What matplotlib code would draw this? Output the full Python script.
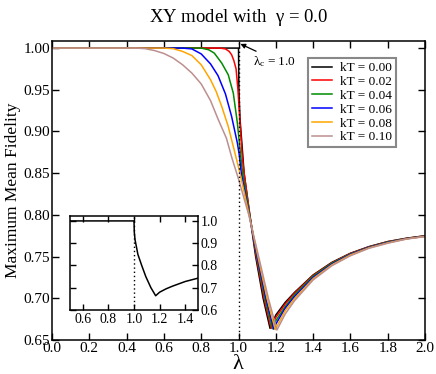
import matplotlib
matplotlib.use("Agg")
import matplotlib.pyplot as plt

plt.rcParams['font.family'] = ['Liberation Serif', 'DejaVu Serif']
plt.rcParams['mathtext.fontset'] = 'custom'
plt.rcParams['mathtext.rm'] = 'Liberation Serif'
plt.rcParams['mathtext.it'] = 'Liberation Serif'

# curves (lambda, max mean fidelity)
lam_00 = [0.0, 1.0, 1.002, 1.008, 1.02, 1.03, 1.06, 1.092, 1.132, 1.169, 1.2, 1.25, 1.3, 1.4, 1.5, 1.6, 1.7, 1.8, 1.9, 2.0]
fid_00 = [1.0, 1.0, 0.95, 0.915, 0.88, 0.85, 0.80, 0.75, 0.70, 0.664, 0.680, 0.695, 0.707, 0.728, 0.743, 0.754, 0.762, 0.768, 0.772, 0.775]

lam_02 = [0.0, 0.9, 0.93, 0.95, 0.963, 0.975, 0.987, 0.997, 1.008, 1.02, 1.03, 1.061, 1.095, 1.137, 1.175, 1.2, 1.25, 1.3, 1.4, 1.5, 1.6, 1.7, 1.8, 1.9, 2.0]
fid_02 = [1.0, 1.0, 0.999, 0.996, 0.992, 0.985, 0.975, 0.95, 0.91, 0.87, 0.85, 0.80, 0.75, 0.70, 0.664, 0.677, 0.693, 0.706, 0.7275, 0.7425, 0.7537, 0.7617, 0.7678, 0.7718, 0.7748]

lam_04 = [0.0, 0.8, 0.84, 0.87, 0.91, 0.945, 0.972, 0.994, 1.012, 1.022, 1.06, 1.098, 1.142, 1.182, 1.2, 1.25, 1.3, 1.4, 1.5, 1.6, 1.7, 1.8, 1.9, 2.0]
fid_04 = [1.0, 1.0, 0.998, 0.994, 0.982, 0.968, 0.946, 0.91, 0.87, 0.85, 0.80, 0.75, 0.70, 0.6635, 0.673, 0.690, 0.704, 0.7265, 0.742, 0.7532, 0.7613, 0.7675, 0.7716, 0.7746]

lam_06 = [0.0, 0.7, 0.75, 0.8, 0.85, 0.89, 0.93, 0.963, 0.994, 1.004, 1.015, 1.058, 1.1, 1.147, 1.189, 1.2, 1.25, 1.3, 1.4, 1.5, 1.6, 1.7, 1.8, 1.9, 2.0]
fid_06 = [1.0, 1.0, 0.999, 0.993, 0.981, 0.967, 0.945, 0.918, 0.886, 0.872, 0.85, 0.80, 0.75, 0.70, 0.663, 0.669, 0.688, 0.702, 0.725, 0.741, 0.7527, 0.761, 0.767, 0.7714, 0.7744]

lam_08 = [0.0, 0.6, 0.65, 0.7, 0.75, 0.8, 0.85, 0.88, 0.91, 0.945, 0.981, 1.008, 1.057, 1.104, 1.153, 1.197, 1.25, 1.3, 1.4, 1.5, 1.6, 1.7, 1.8, 1.9, 2.0]
fid_08 = [1.0, 1.0, 0.9993, 0.996, 0.991, 0.98, 0.962, 0.948, 0.93, 0.906, 0.874, 0.85, 0.80, 0.75, 0.70, 0.6625, 0.685, 0.6995, 0.7235, 0.740, 0.752, 0.7605, 0.7665, 0.7712, 0.7742]

lam_10 = [0.0, 0.45, 0.5, 0.55, 0.6, 0.65, 0.7, 0.75, 0.8, 0.85, 0.89, 0.935, 0.965, 1.0, 1.055, 1.108, 1.16, 1.206, 1.25, 1.3, 1.4, 1.5, 1.6, 1.7, 1.8, 1.9, 2.0]
fid_10 = [1.0, 1.0, 0.9993, 0.997, 0.9935, 0.988, 0.980, 0.970, 0.957, 0.937, 0.915, 0.892, 0.868, 0.843, 0.80, 0.75, 0.70, 0.662, 0.681, 0.697, 0.722, 0.739, 0.751, 0.760, 0.766, 0.771, 0.774]

labels = ['kT = 0.00', 'kT = 0.02', 'kT = 0.04', 'kT = 0.06', 'kT = 0.08', 'kT = 0.10']
colors = ['black', '#ff0000', '#008b00', '#0000ff', '#ffa500', '#bc8f8f']
curves = [(lam_00, fid_00), (lam_02, fid_02), (lam_04, fid_04),
          (lam_06, fid_06), (lam_08, fid_08), (lam_10, fid_10)]
lam_c = 1.0

fig = plt.figure(figsize=(4.36, 3.74), dpi=100)
ax = fig.add_axes([0.1193, 0.0909, 0.8555, 0.7995])

for (x, y), c, lab in zip(curves, colors, labels):
    ax.plot(x, y, color=c, lw=1.1, label=lab)
ax.axvline(lam_c, color='black', ls=(0, (1, 2)), lw=1.0)

ax.set_xlim(0.0, 2.0)
ax.set_ylim(0.65, 1.0085)
ax.set_xticks([0.0, 0.2, 0.4, 0.6, 0.8, 1.0, 1.2, 1.4, 1.6, 1.8, 2.0])
ax.set_yticks([0.65, 0.70, 0.75, 0.80, 0.85, 0.90, 0.95, 1.00])
ax.set_xticklabels(['%.1f' % v for v in ax.get_xticks()])
ax.set_yticklabels(['%.2f' % v for v in ax.get_yticks()])
ax.tick_params(direction='in', top=True, right=True, length=5, width=1.0, labelsize=11, pad=1.5)
for s in ax.spines.values():
    s.set_linewidth(1.1)
ax.set_xlabel(r'$\lambda$', fontsize=16, labelpad=0)
ax.set_ylabel('Maximum Mean Fidelity', fontsize=12.5, labelpad=2)
ax.set_title(r'XY model with  $\gamma$ = 0.0', fontsize=13.5, pad=14)

leg = ax.legend(loc='upper right', bbox_to_anchor=(0.922, 0.943), fontsize=9.5,
                handlelength=1.5, handletextpad=0.6, borderpad=0.3,
                labelspacing=0.12, fancybox=False, framealpha=1, borderaxespad=0)
leg.get_frame().set_edgecolor('#888888')
leg.get_frame().set_linewidth(1.5)

ax.annotate(r'$\lambda_{\mathrm{c}}$ = 1.0', xy=(1.01, 1.005), xytext=(1.08, 0.984),
            fontsize=9.5, ha='left', va='center',
            arrowprops=dict(arrowstyle='-|>', color='black', lw=0.9,
                            mutation_scale=7, shrinkA=0, shrinkB=0,
                            relpos=(0.2, 1.0)))

# inset: zero temperature curve
ins = fig.add_axes([0.1606, 0.1711, 0.2936, 0.2513])
ins.plot(lam_00, fid_00, color='black', lw=1.1)
ins.axvline(lam_c, color='black', ls=(0, (1, 2)), lw=1.0)
ins.set_xlim(0.5, 1.5)
ins.set_ylim(0.6, 1.022)
ins.set_xticks([0.6, 0.8, 1.0, 1.2, 1.4])
ins.set_yticks([0.6, 0.7, 0.8, 0.9, 1.0])
ins.set_xticklabels(['%.1f' % v for v in ins.get_xticks()])
ins.set_yticklabels(['%.1f' % v for v in ins.get_yticks()])
ins.yaxis.tick_right()
ins.tick_params(direction='in', top=True, left=True, right=True, length=4,
                width=1.0, labelsize=10, pad=2)
for s in ins.spines.values():
    s.set_linewidth(1.1)

fig.savefig('out.png', dpi=100)
